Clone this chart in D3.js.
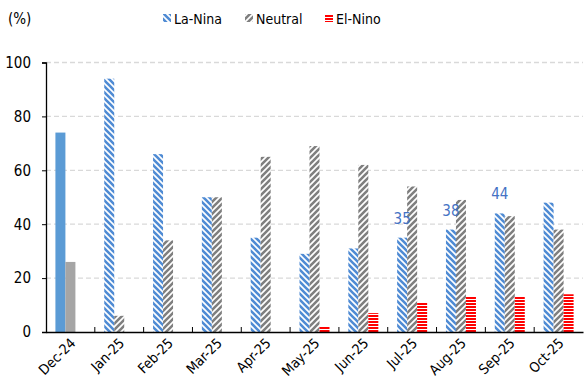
<!DOCTYPE html>
<html><head><meta charset="utf-8">
<script src="https://cdn.jsdelivr.net/npm/d3@7"></script>
<style>body{margin:0;background:#fff}svg{display:block}text{font-family:"DejaVu Sans Condensed","DejaVu Sans",sans-serif}</style>
</head><body><svg id="c" width="584" height="392"></svg>
<script>
const categories = ["Dec-24","Jan-25","Feb-25","Mar-25","Apr-25","May-25","Jun-25","Jul-25","Aug-25","Sep-25","Oct-25"];
const laNina  = [74, 94, 66, 50, 35, 29, 31, 35, 38, 44, 48];
const neutral = [26, 6, 34, 50, 65, 69, 62, 54, 49, 43, 38];
const elNino  = [0, 0, 0, 0, 0, 2, 7, 11, 13, 13, 14];
const seriesNames = ["La-Nina","Neutral","El-Nino"];
const yTicks = [0, 20, 40, 60, 80, 100];
const labelled = ["Jul-25","Aug-25","Sep-25"];

const svg = d3.select("#c");
const m = {l:46, r:1, t:62.5, b:60};
const W = 584, H = 392;
const x = d3.scaleBand().domain(categories).range([m.l, W - m.r]);
const y = d3.scaleLinear().domain([0, 100]).range([332, 62.5]);
const sub = d3.scaleBand().domain(seriesNames).range([0, 30]);

const defs = svg.append("defs");
function diag(id, color, down) {
  const p = defs.append("pattern").attr("id", id).attr("patternUnits","userSpaceOnUse").attr("width",6).attr("height",6);
  p.append("rect").attr("width",6).attr("height",6).attr("fill","#fff");
  const d = down ? "M-1,-1 L7,7 M-1,5 L1,7 M5,-1 L7,1" : "M-1,7 L7,-1 M-1,1 L1,-1 M5,7 L7,5";
  p.append("path").attr("d", d).attr("stroke", color).attr("stroke-width", 2.6);
}
diag("pLa", "#4F8BD4", true);
diag("pNe", "#7F7F7F", false);
const pr = defs.append("pattern").attr("id","pEl").attr("patternUnits","userSpaceOnUse").attr("width",4).attr("height",3);
pr.append("rect").attr("width",4).attr("height",3).attr("fill","#fff");
pr.append("rect").attr("width",4).attr("height",2).attr("fill","#FF0000");

// grid
svg.append("g").selectAll("line").data(yTicks.filter(d => d > 0)).join("line")
  .attr("x1", m.l).attr("x2", W - m.r).attr("y1", d => y(d)).attr("y2", d => y(d))
  .attr("stroke", "#D9D9D9").attr("stroke-width", 1.3).attr("stroke-dasharray", "5,3");

const series = [
  {name:"La-Nina", vals: laNina, fill:"url(#pLa)", solid:"#5B9BD5"},
  {name:"Neutral", vals: neutral, fill:"url(#pNe)", solid:"#A5A5A5"},
  {name:"El-Nino", vals: elNino, fill:"url(#pEl)", solid:"#FF0000"}
];
const off = (x.bandwidth() - 30) / 2;
series.forEach(s => {
  svg.append("g").selectAll("rect").data(categories).join("rect")
    .attr("x", c => x(c) + off + sub(s.name))
    .attr("width", sub.bandwidth())
    .attr("y", (c, i) => y(s.vals[i]))
    .attr("height", (c, i) => y(0) - y(s.vals[i]))
    .attr("fill", (c, i) => i === 0 ? s.solid : s.fill);
});

// data labels
svg.append("g").selectAll("text").data(labelled).join("text")
  .attr("x", c => x(c) + off + sub("La-Nina") + sub.bandwidth()/2)
  .attr("y", c => y(laNina[categories.indexOf(c)]) - 14)
  .attr("text-anchor","middle").attr("font-size", 15).attr("fill", "#4472C4")
  .text(c => laNina[categories.indexOf(c)]);

// y axis
const ya = svg.append("g").attr("transform", `translate(${m.l},0)`)
  .call(d3.axisLeft(y).tickValues(yTicks).tickSize(4).tickPadding(11));
ya.select(".domain").attr("stroke","#000").attr("stroke-width",1.3);
ya.selectAll(".tick line").attr("stroke","#000");
ya.selectAll("text").attr("font-size", 15).attr("fill","#000").style("font-family",'"DejaVu Sans Condensed","DejaVu Sans",sans-serif');

// x axis
const xa = svg.append("g").attr("transform", `translate(0,${y(0)})`)
  .call(d3.axisBottom(x).tickSize(0).tickPadding(0));
xa.select(".domain").attr("stroke","#000").attr("stroke-width",1.5);
xa.selectAll(".tick text").attr("font-size", 14).attr("fill","#000")
  .style("font-family",'"DejaVu Sans Condensed","DejaVu Sans",sans-serif')
  .attr("text-anchor","end").attr("dy", null).attr("y", 0)
  .attr("transform","translate(6,12) rotate(-45)");
svg.append("g").selectAll("line").data(categories.slice(1)).join("line")
  .attr("x1", c => x(c)).attr("x2", c => x(c)).attr("y1", y(0)).attr("y2", y(0) - 5)
  .attr("stroke", "#000");

// unit
svg.append("text").attr("x", 8).attr("y", 24).attr("font-size", 15).text("(%)");

// legend
const leg = [{n:"La-Nina", f:"url(#pLa)", x:163},{n:"Neutral", f:"url(#pNe)", x:245},{n:"El-Nino", f:"url(#pEl)", x:325}];
const lg = svg.append("g");
leg.forEach(l => {
  lg.append("rect").attr("x", l.x).attr("y", 14).attr("width", 8).attr("height", 8).attr("fill", l.f);
  lg.append("text").attr("x", l.x + 11).attr("y", 24).attr("font-size", 14).text(l.n);
});
</script></body></html>
